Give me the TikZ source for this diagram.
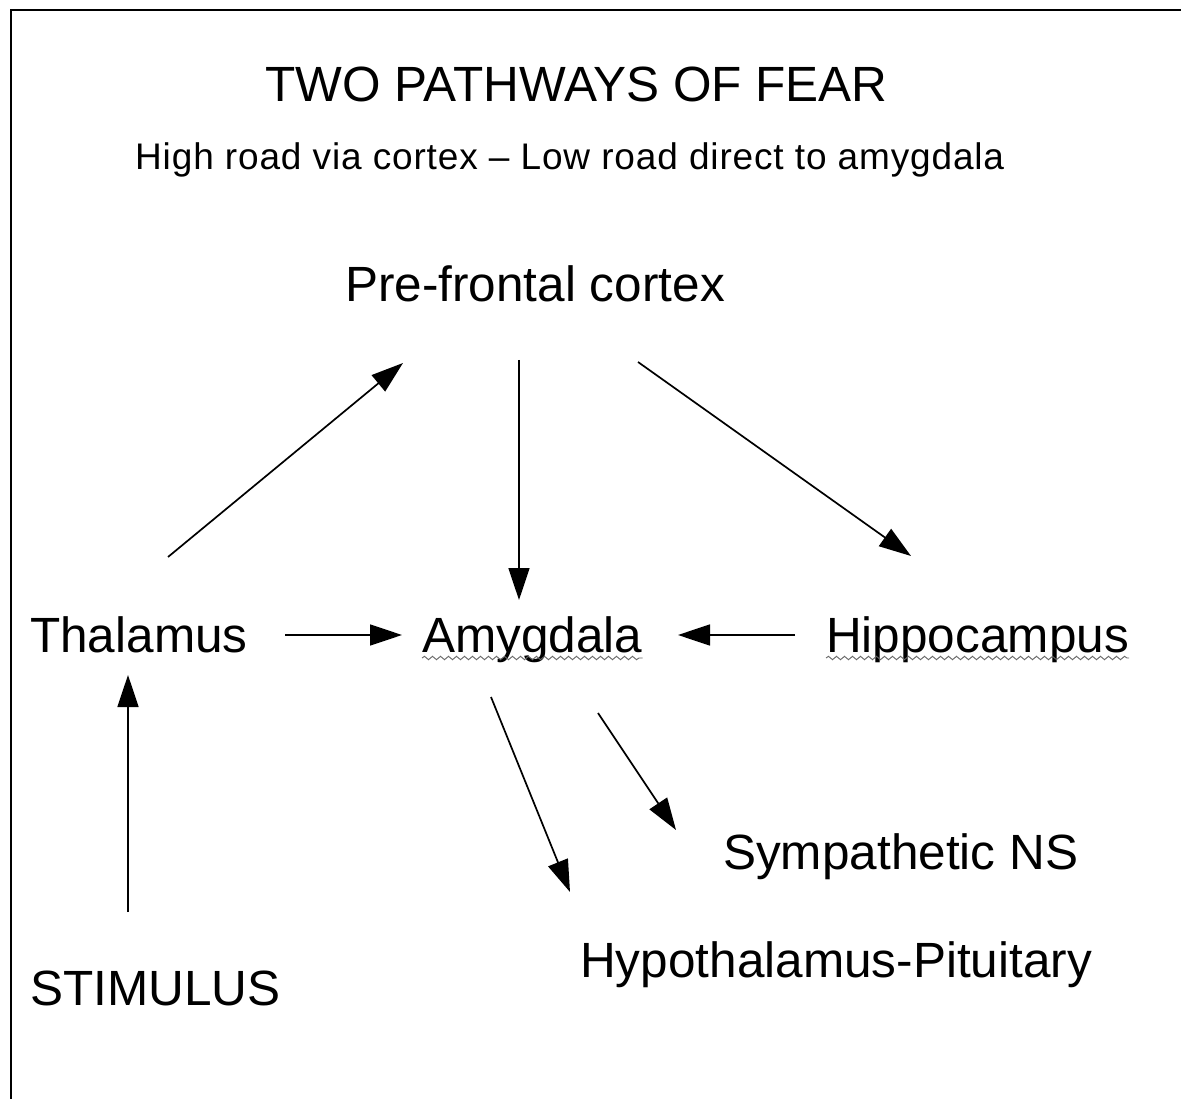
\documentclass[tikz,border=0pt]{standalone}
\usepackage{fontspec}
\setmainfont{Liberation Sans}
\usetikzlibrary{arrows.meta,decorations.pathmorphing}
\begin{document}
\begin{tikzpicture}[x=1pt,y=-1pt,
  lbl/.style={anchor=base west,inner sep=0pt,font=\fontsize{49.5}{58}\selectfont},
  sub/.style={anchor=base west,inner sep=0pt,font=\fontsize{37}{44}\selectfont\addfontfeature{LetterSpace=2.3}},
  arr/.style={line width=1.7pt,-{Triangle[length=32pt,width=21pt]}},
  squig/.style={draw=black!60,line width=0.9pt,decorate,decoration={snake,segment length=8pt,amplitude=1.7pt}}]
\useasboundingbox (0,0) rectangle (1181,1099);
\fill[white] (0,0) rectangle (1181,1099);
\draw[line width=2.6pt] (11,1099) -- (11,10) -- (1181,10);

\node[lbl] (title) at (265,102) {TWO PATHWAYS OF FEAR};
\node[sub] (subt) at (135,170) {High road via cortex -- Low road direct to amygdala};
\node[lbl] (pfc) at (345,302) {Pre-frontal cortex};
\node[lbl] (thal) at (30,652) {Thalamus};
\node[lbl] (amyg) at (422,652) {Amygdala};
\node[lbl] (hippo) at (826,652) {Hippocampus};
\node[lbl] (symp) at (723,869) {Sympathetic NS};
\node[lbl] (hypo) at (580,977) {Hypothalamus-Pituitary};
\node[lbl] (stim) at (30,1005) {STIMULUS};

\draw[squig] ([shift={(0,6)}]amyg.base west) -- ([shift={(0,6)}]amyg.base east);
\draw[squig] ([shift={(0,6)}]hippo.base west) -- ([shift={(0,6)}]hippo.base east);

\draw[arr] ([shift={(138,-95)}]thal.base west) -- ([shift={(58,61)}]pfc.base west);
\draw[arr] ([shift={(174,58)}]pfc.base west) -- ([shift={(97,-52)}]amyg.base west);
\draw[arr] ([shift={(293,60)}]pfc.base west) -- ([shift={(85,-96)}]hippo.base west);
\draw[arr] ([shift={(255,-17)}]thal.base west) -- ([shift={(-20,-17)}]amyg.base west);
\draw[arr] ([shift={(-31,-17)}]hippo.base west) -- ([shift={(256,-17)}]amyg.base west);
\draw[arr] ([shift={(69,45)}]amyg.base west) -- ([shift={(-10,-85)}]hypo.base west);
\draw[arr] ([shift={(176,61)}]amyg.base west) -- ([shift={(-47,-39)}]symp.base west);
\draw[arr] ([shift={(98,-93)}]stim.base west) -- ([shift={(98,23)}]thal.base west);
\end{tikzpicture}
\end{document}
